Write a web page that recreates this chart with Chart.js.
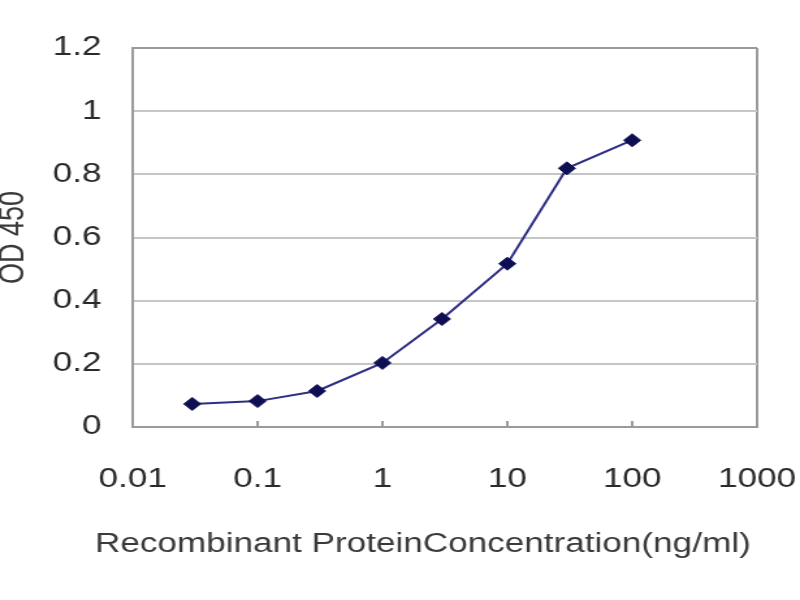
<!DOCTYPE html>
<html>
<head>
<meta charset="utf-8">
<script src="https://cdn.jsdelivr.net/npm/chart.js@4/dist/chart.umd.min.js"></script>
<style>
  html, body { margin: 0; padding: 0; background: #fff; overflow: hidden; }
  /* the reference picture is stretched sideways, so the chart is too */
  #wrap { position: absolute; left: 0; top: 0; width: 615px; height: 600px;
          transform: scaleX(1.30081); transform-origin: 0 0; }
</style>
</head>
<body>
<div id="wrap"><canvas id="odChart"></canvas></div>
<script>
// concentration (ng/ml) and measured OD 450
const concentrations = [0.03, 0.1, 0.3, 1, 3, 10, 30, 100];
const od450 = [0.073, 0.082, 0.114, 0.203, 0.342, 0.517, 0.819, 0.908];
const xTicks = [0.01, 0.1, 1, 10, 100, 1000];
const yMin = 0, yMax = 1.2, yStep = 0.2;

const points = concentrations.map((c, i) => ({ x: c, y: od450[i] }));
const axisFont = { family: "'Liberation Sans', Arial, sans-serif", size: 27 };

const ctx = document.getElementById("odChart").getContext("2d");

const odChart = new Chart(ctx, {
  type: "line",
  data: {
    datasets: [{
      label: "OD 450",
      data: points,
      borderColor: "#2e2e82",
      borderWidth: 2,
      backgroundColor: "#0e0e52",
      pointBackgroundColor: "#0e0e52",
      pointBorderColor: "#0e0e52",
      pointStyle: "rectRot",
      pointRadius: 6.5,
      pointBorderWidth: 1,
      tension: 0
    }]
  },
  options: {
    responsive: true,
    maintainAspectRatio: false,
    animation: false,
    // negative right padding shifts the bottom title left, like the reference
    layout: { padding: { left: 0, right: -35, top: 48, bottom: 0 } },
    plugins: {
      legend: { display: false },
      tooltip: { enabled: false },
      title: {
        display: true,
        position: "bottom",
        text: "Recombinant ProteinConcentration(ng/ml)",
        color: "#3a3a3a",
        font: { ...axisFont, weight: "normal" },
        padding: { top: 0, bottom: 39 }
      }
    },
    scales: {
      x: {
        type: "logarithmic",
        min: 0.01,
        max: 1000,
        afterBuildTicks: (scale) => { scale.ticks = xTicks.map(v => ({ value: v })); },
        afterFit: (scale) => { scale.height = 101.6; scale.paddingRight = 33; },
        ticks: {
          color: "#2a2a2a",
          font: axisFont,
          padding: 42,
          maxRotation: 0,
          autoSkip: false,
          callback: (v) => String(v)
        },
        grid: {
          color: (c) => (c.tick && c.tick.value === 1000 ? "#9a9a9a" : "rgba(0,0,0,0)"),
          lineWidth: 2,
          tickColor: "#9a9a9a",
          tickLength: -6
        },
        border: { color: "#9a9a9a", width: 2 }
      },
      y: {
        min: yMin,
        max: yMax,
        afterFit: (scale) => { scale.width = 102; scale.paddingTop = 16; scale.paddingBottom = 16; },
        ticks: {
          stepSize: yStep,
          color: "#2a2a2a",
          font: axisFont,
          padding: 24,
          callback: (v) => String(+v.toFixed(1))
        },
        grid: {
          color: (c) => (c.tick && c.tick.value > 1.19 ? "#9a9a9a" : "#c6c6c6"),
          lineWidth: 2,
          drawTicks: false
        },
        border: { color: "#9a9a9a", width: 2 },
        title: {
          display: true,
          text: "OD 450",
          color: "#3a3a3a",
          font: axisFont,
          padding: { top: -6, bottom: 0 }
        }
      }
    }
  }
});
</script>
</body>
</html>
